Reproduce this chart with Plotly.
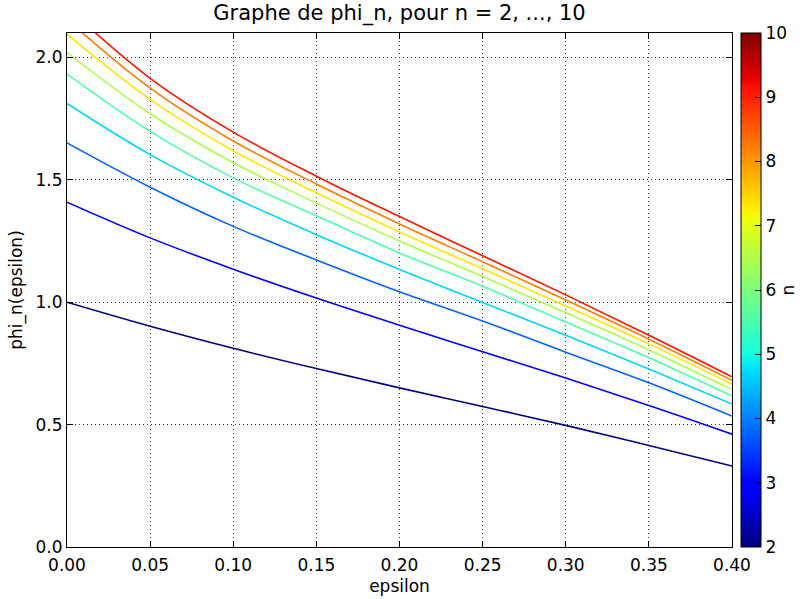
import plotly.graph_objects as go
from plotly.colors import sample_colorscale

# ---- data ----
epsilon = [0.00, 0.05, 0.10, 0.15, 0.20, 0.25, 0.30, 0.35, 0.40]
n_values = [2, 3, 4, 5, 6, 7, 8, 9, 10]
phi_2 = [1.000, 0.902, 0.812, 0.729, 0.650, 0.574, 0.497, 0.415, 0.331]
phi_3 = [1.409, 1.263, 1.135, 1.017, 0.906, 0.798, 0.690, 0.578, 0.461]
phi_4 = [1.651, 1.470, 1.310, 1.173, 1.043, 0.923, 0.796, 0.671, 0.535]
phi_5 = [1.812, 1.603, 1.429, 1.276, 1.134, 0.999, 0.865, 0.727, 0.584]
phi_6 = [1.932, 1.698, 1.508, 1.353, 1.201, 1.065, 0.919, 0.773, 0.617]
phi_7 = [2.020, 1.770, 1.570, 1.405, 1.250, 1.105, 0.957, 0.805, 0.643]
phi_8 = [2.095, 1.829, 1.619, 1.447, 1.287, 1.137, 0.985, 0.830, 0.665]
phi_9 = [2.155, 1.875, 1.659, 1.483, 1.320, 1.165, 1.009, 0.849, 0.681]
phi_10 = [2.205, 1.915, 1.695, 1.515, 1.350, 1.190, 1.030, 0.865, 0.695]
series = [phi_2, phi_3, phi_4, phi_5, phi_6, phi_7, phi_8, phi_9, phi_10]

x_ticks = [0.00, 0.05, 0.10, 0.15, 0.20, 0.25, 0.30, 0.35, 0.40]
y_ticks = [0.0, 0.5, 1.0, 1.5, 2.0]
cb_ticks = [2, 3, 4, 5, 6, 7, 8, 9, 10]

# matplotlib "jet" colormap
jet = [
    [0.0, "rgb(0,0,128)"],
    [0.11, "rgb(0,0,255)"],
    [0.125, "rgb(0,0,255)"],
    [0.34, "rgb(0,219,255)"],
    [0.35, "rgb(0,230,247)"],
    [0.375, "rgb(21,255,226)"],
    [0.64, "rgb(239,255,8)"],
    [0.65, "rgb(247,245,0)"],
    [0.66, "rgb(255,236,0)"],
    [0.89, "rgb(255,19,0)"],
    [0.91, "rgb(232,0,0)"],
    [1.0, "rgb(128,0,0)"],
]

FONT = "DejaVu Sans"
fig = go.Figure()

for i, (n, ys) in enumerate(zip(n_values, series)):
    col = sample_colorscale(jet, [i / len(n_values)])[0]
    fig.add_trace(go.Scatter(
        x=epsilon, y=ys, mode="lines", name=f"n = {n}",
        line=dict(color=col, width=1.6, shape="spline", smoothing=1.0),
        showlegend=False,
    ))

# colour bar
fig.add_trace(go.Scatter(
    x=[None], y=[None], mode="markers", showlegend=False, hoverinfo="skip",
    marker=dict(
        color=[2, 10], cmin=2, cmax=10, colorscale=jet, showscale=True,
        colorbar=dict(
            x=1.013, xanchor="left", xpad=0, ypad=0,
            y=0.5, yanchor="middle", len=1, lenmode="fraction",
            thickness=20, thicknessmode="pixels",
            outlinewidth=1, outlinecolor="black",
            tickmode="array", tickvals=cb_ticks,
            ticktext=[str(t) for t in cb_ticks],
            ticks="inside", ticklen=6, tickcolor="black",
            tickfont=dict(family=FONT, size=17, color="black"),
            title=dict(text="n", side="right",
                       font=dict(family=FONT, size=17, color="black")),
        ),
    ),
))

axis_common = dict(
    showline=True, linecolor="black", linewidth=1, mirror="ticks",
    ticks="inside", ticklen=6, tickcolor="black", tickwidth=1,
    showgrid=True, gridcolor="rgb(60,60,60)", gridwidth=1, griddash="1px,3px",
    zeroline=False, automargin=False,
    tickfont=dict(family=FONT, size=17, color="black"),
)

fig.update_xaxes(
    range=[0, 0.4], tickmode="array", tickvals=x_ticks,
    ticktext=[f"{t:.2f}" for t in x_ticks],
    ticklabelstandoff=3,
    title=dict(text="epsilon", font=dict(family=FONT, size=17, color="black"),
               standoff=5),
    **axis_common,
)
fig.update_yaxes(
    range=[0, 2.1], tickmode="array", tickvals=y_ticks,
    ticktext=[f"{t:.1f}" for t in y_ticks],
    title=dict(text="phi_n(epsilon)", font=dict(family=FONT, size=17, color="black"),
               standoff=8),
    **axis_common,
)

fig.update_layout(
    width=810, height=599,
    margin=dict(l=67, r=76, t=33, b=52),
    paper_bgcolor="white", plot_bgcolor="white",
    title=dict(text="Graphe de phi_n, pour n = 2, ..., 10",
               x=0.5, xref="paper", xanchor="center",
               y=1, yref="container", yanchor="top", pad=dict(t=5),
               font=dict(family=FONT, size=21, color="black")),
    font=dict(family=FONT, color="black"),
)

fig.write_html("out.html",
               config={"displayModeBar": False},
               post_script="document.body.style.margin='0px';")
